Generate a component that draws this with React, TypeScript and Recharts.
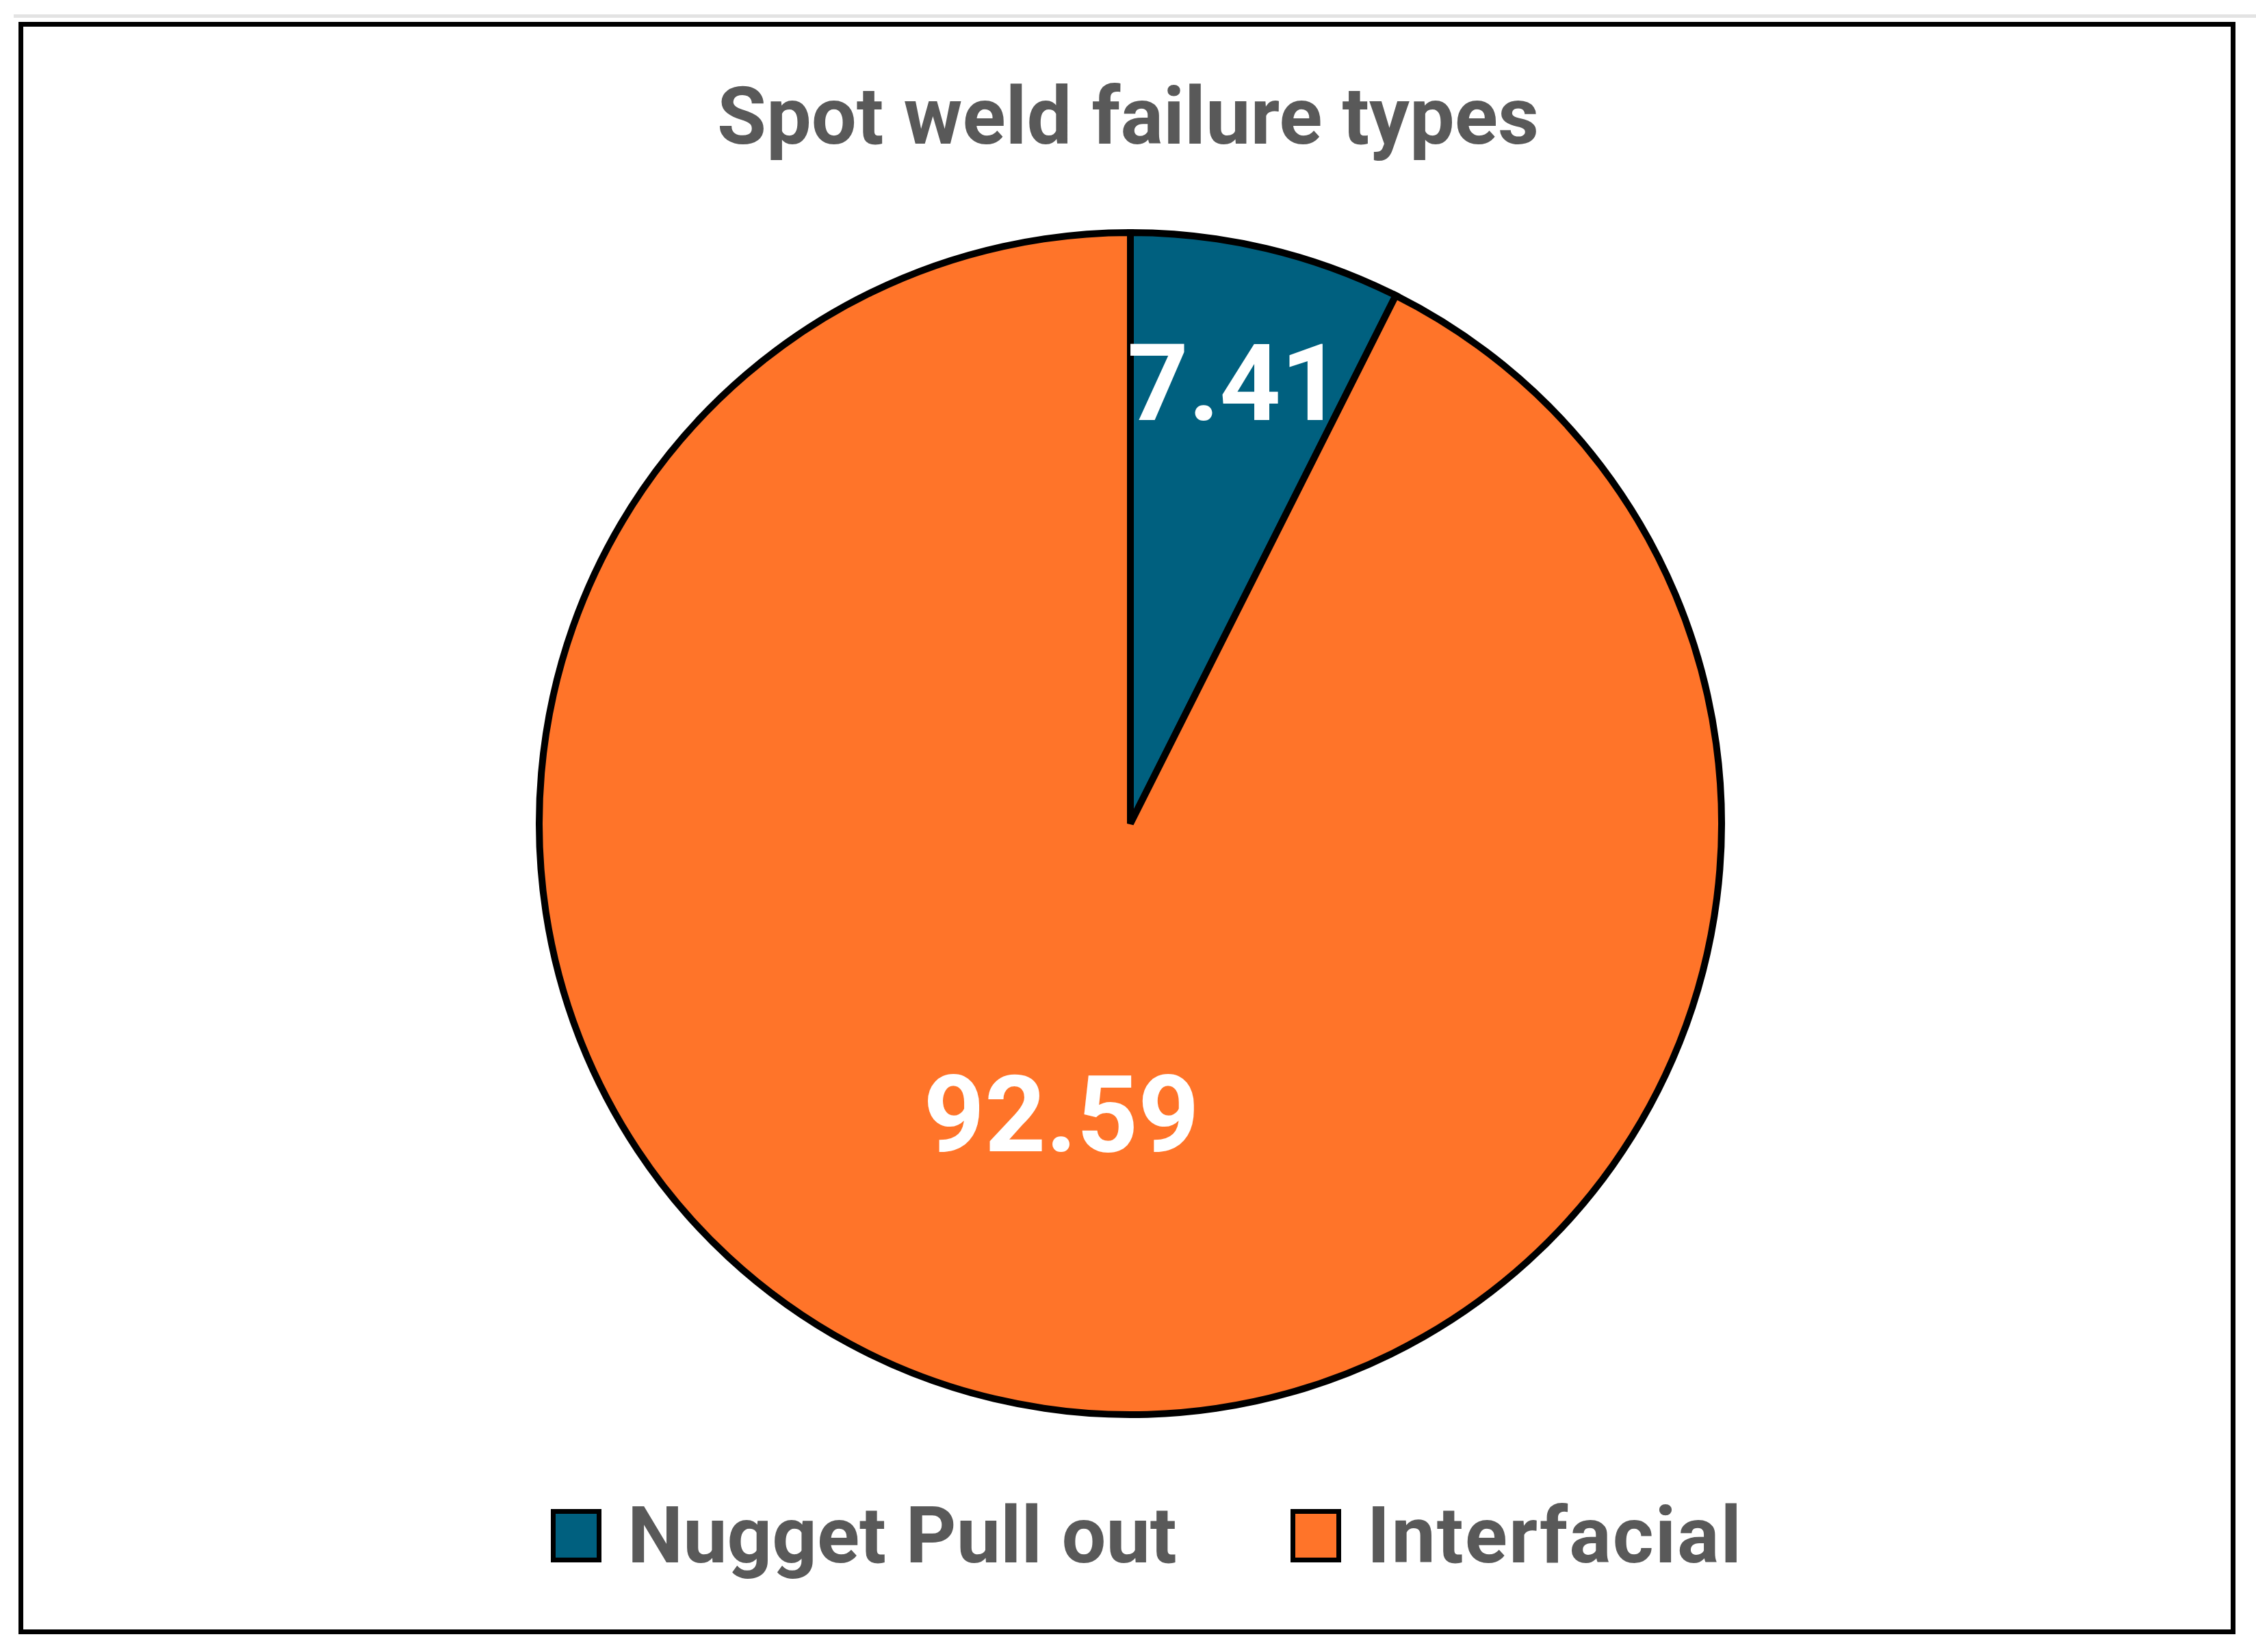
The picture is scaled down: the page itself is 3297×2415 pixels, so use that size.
import React from 'react';
import { PieChart, Pie, Cell, Legend } from 'recharts';

// chart values
const categories = ['Nugget Pull out', 'Interfacial'];
const shares = [7.41, 92.59];
const sliceColors = ['#00607F', '#FF7429'];

const data = categories.map((name, i) => ({ name, value: shares[i] }));

const W = 3297;
const H = 2415;
const RAD = Math.PI / 180;
const FONT = 'Roboto, "Noto Sans", Arial, sans-serif';
// how far out from the centre each value label sits (fraction of radius)
const labelFrac = [0.765, 0.506];

const renderLabel = (props: any) => {
  const { cx, cy, midAngle, outerRadius, value, index } = props;
  const r = outerRadius * labelFrac[index];
  const x = cx + r * Math.cos(-midAngle * RAD);
  const y = cy + r * Math.sin(-midAngle * RAD);
  return (
    <text
      x={x}
      y={y}
      fill="#fff"
      textAnchor="middle"
      dominantBaseline="central"
      fontFamily={FONT}
      fontWeight={700}
      fontSize={156}
    >
      {value.toFixed(2)}
    </text>
  );
};

const LegendContent = () => (
  <div style={{ display: 'flex', alignItems: 'flex-end', fontFamily: FONT, fontWeight: 700, fontSize: 115, color: '#595959', lineHeight: 1 }}>
    {categories.map((c, i) => (
      <div key={c} style={{ display: 'flex', alignItems: 'center', marginRight: i === 0 ? 166 : 0 }}>
        <span
          style={{
            display: 'inline-block',
            width: 74,
            height: 78,
            boxSizing: 'border-box',
            border: '7px solid #000',
            background: sliceColors[i],
            marginRight: 38,
          }}
        />
        <span style={{ letterSpacing: i === 1 ? 2 : 0 }}>{c}</span>
      </div>
    ))}
  </div>
);

export default function App() {
  return (
    <div style={{ position: 'relative', width: W, height: H, background: '#fff', overflow: 'hidden' }}>
      <style>{`body{margin:0}`}</style>
      <div style={{ position: 'absolute', left: 20, right: 0, top: 21, height: 5, background: '#e3e3e3' }} />
      <div
        style={{
          position: 'absolute',
          left: 27,
          top: 32,
          width: 3240,
          height: 2357,
          border: '7px solid #000',
          boxSizing: 'border-box',
        }}
      />
      <div
        style={{
          position: 'absolute',
          left: 0,
          width: W,
          top: 112,
          textAlign: 'center',
          fontFamily: FONT,
          fontWeight: 700,
          fontSize: 117,
          lineHeight: 1,
          color: '#595959',
        }}
      >
        Spot weld failure types
      </div>
      <div style={{ position: 'absolute', left: 0, top: 0 }}>
        <PieChart width={W} height={H}>
          <Pie
            data={data}
            dataKey="value"
            nameKey="name"
            cx={1647}
            cy={1199}
            outerRadius={864}
            startAngle={90}
            endAngle={-270}
            stroke="#000"
            strokeWidth={10}
            label={renderLabel}
            labelLine={false}
            isAnimationActive={false}
          >
            {data.map((d, i) => (
              <Cell key={d.name} fill={sliceColors[i]} />
            ))}
          </Pie>
          <Legend
            content={<LegendContent />}
            wrapperStyle={{ position: 'absolute', left: 805, top: 2187, width: 'auto' }}
          />
        </PieChart>
      </div>
    </div>
  );
}
